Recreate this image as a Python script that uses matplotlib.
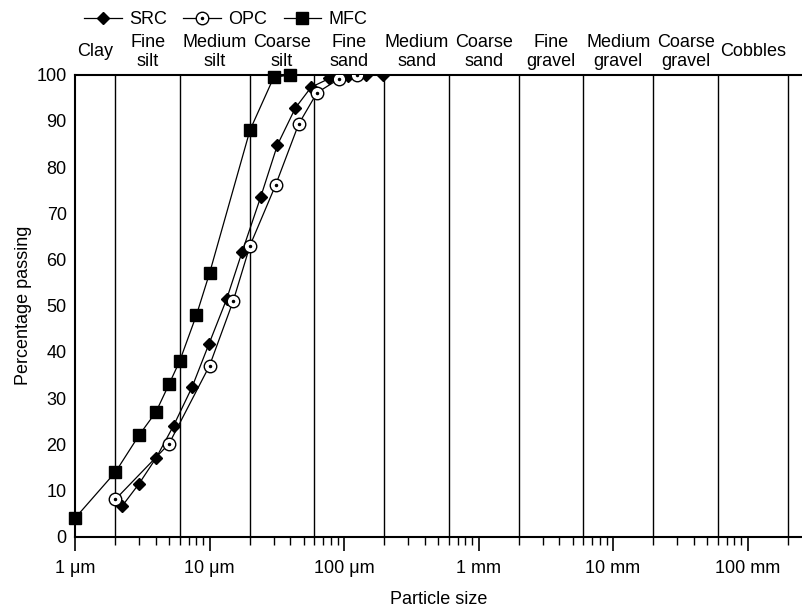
import matplotlib.pyplot as plt
import numpy as np
from matplotlib.ticker import FixedLocator, LogLocator, NullFormatter
from matplotlib.legend_handler import HandlerTuple

plt.rcParams['font.family'] = ['Liberation Sans', 'DejaVu Sans']
plt.rcParams['font.size'] = 13

# particle sizes in micrometres, percentage passing
src_size = [2.25, 3.0, 4.0, 5.4, 7.4, 9.9, 13.4, 17.5, 24, 32, 43.5, 57, 78, 107, 146, 195]
src_pass = [6.7, 11.5, 17.0, 24.0, 32.3, 41.7, 51.4, 61.7, 73.5, 84.8, 92.8, 97.3, 99.2, 99.8, 100, 100]

opc_size = [2.0, 5.0, 10, 15, 20, 31, 46, 63, 92, 126]
opc_pass = [8.1, 20.1, 37.0, 51.0, 63.0, 76.1, 89.3, 96.1, 99.1, 100]

mfc_size = [1, 2, 3, 4, 5, 6, 8, 10, 20, 30, 40]
mfc_pass = [4, 14, 22, 27, 33, 38, 48, 57, 88, 99.4, 100]

# soil fraction boundaries (micrometres) and names
bounds = [1, 2, 6, 20, 60, 200, 600, 2000, 6000, 20000, 60000, 200000]
fractions = ['Clay', 'Fine\nsilt', 'Medium\nsilt', 'Coarse\nsilt', 'Fine\nsand',
             'Medium\nsand', 'Coarse\nsand', 'Fine\ngravel', 'Medium\ngravel',
             'Coarse\ngravel', 'Cobbles']

tick_pos = [1, 10, 100, 1000, 10000, 100000]
tick_lab = ['1 \u03bcm', '10 \u03bcm', '100 \u03bcm', '1 mm', '10 mm', '100 mm']

fig = plt.figure(figsize=(8.03, 6.10), dpi=100)
ax = fig.add_axes([75 / 803, 73.3 / 610, 1 - 75 / 803, 462 / 610])

ax.set_xscale('log')
ax.set_xlim(1, 10 ** ((803 - 75) / 134.5))
ax.set_ylim(0, 100)

for b in bounds[1:]:
    ax.axvline(b, color='black', lw=1.0, zorder=1)

# fraction names above the plot
tr = ax.get_xaxis_transform()
for i, name in enumerate(fractions):
    xc = np.sqrt(bounds[i] * bounds[i + 1])
    if '\n' in name:
        ax.text(xc, 1.0195, name, transform=tr, ha='center', va='baseline',
                linespacing=1.1)
    else:
        ax.text(xc, 1.05, name, transform=tr, ha='center', va='center')

lw = 0.9
l_src, = ax.plot(src_size, src_pass, color='black', lw=lw, marker='D', ms=6,
                 mfc='black', mec='black', zorder=3)
l_opc, = ax.plot(opc_size, opc_pass, color='black', lw=lw, marker='o', ms=9,
                 mfc='white', mec='black', mew=1.0, zorder=3)
d_opc, = ax.plot(opc_size, opc_pass, ls='none', marker='o', ms=1.5,
                 color='black', zorder=4)
l_mfc, = ax.plot(mfc_size, mfc_pass, color='black', lw=lw, marker='s', ms=8.5,
                 mfc='black', mec='black', zorder=3, clip_on=False)

ax.xaxis.set_major_locator(FixedLocator(tick_pos))
ax.set_xticklabels(tick_lab)
ax.xaxis.set_minor_locator(LogLocator(base=10, subs=np.arange(2, 10)))
ax.xaxis.set_minor_formatter(NullFormatter())
ax.tick_params(axis='x', which='major', direction='out', length=10, width=1.2, pad=7)
ax.tick_params(axis='x', which='minor', direction='out', length=6, width=1.0)
ax.set_yticks(np.arange(0, 101, 10))
ax.tick_params(axis='y', length=0, pad=6)

for s in ['left', 'bottom', 'top']:
    ax.spines[s].set_linewidth(1.5)
ax.spines['right'].set_visible(False)

ax.set_xlabel('Particle size', labelpad=10)
ax.set_ylabel('Percentage passing', labelpad=3)

fig.legend([l_src, (l_opc, d_opc), l_mfc], ['SRC', 'OPC', 'MFC'],
           handler_map={tuple: HandlerTuple(ndivide=1, pad=0)},
           loc='center left', bbox_to_anchor=(84 / 803, 1 - 20 / 610),
           ncol=3, frameon=False, borderpad=0, borderaxespad=0,
           handlelength=2.1, handletextpad=0.4, columnspacing=0.9)

fig.savefig('out.png', dpi=100)
